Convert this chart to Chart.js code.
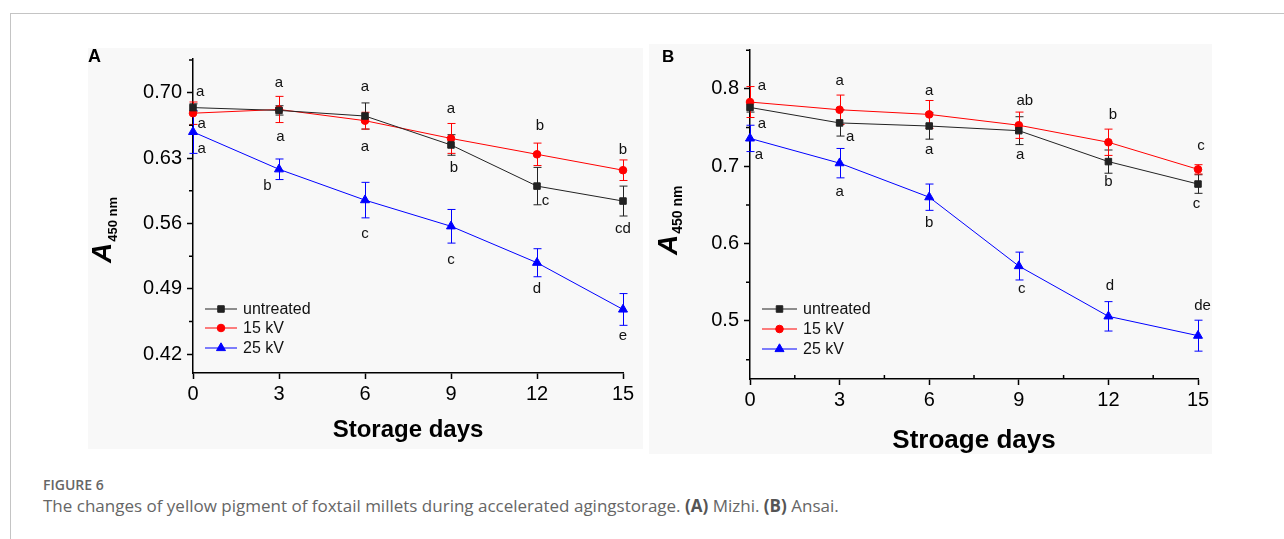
<!DOCTYPE html>
<html>
<head>
<meta charset="utf-8">
<script src="https://cdn.jsdelivr.net/npm/chart.js@4.4.1/dist/chart.umd.min.js"></script>
<style>
  html, body { margin: 0; padding: 0; background: #fff; }
  body { width: 1284px; height: 539px; position: relative; overflow: hidden; }
  .card { position: absolute; left: 10px; top: 13px; right: -5px; bottom: -5px;
          border-top: 1px solid #c4c4c4; border-left: 1px solid #c4c4c4; }
  .panel { position: absolute; background: #f8f8f8; }
  #panelA { left: 88px; top: 48px; width: 555px; height: 401px; }
  #panelB { left: 649px; top: 44px; width: 563px; height: 410px; }
  .fig-no { position: absolute; left: 43px; top: 475px; font: 600 14px/20px "Open Sans", sans-serif; color: #666; }
  .fig-cap { position: absolute; left: 43px; top: 495px; font: 400 17px/22px "Open Sans", sans-serif; color: #666; white-space: nowrap; }
  .fig-cap b { color: #555; }
</style>
</head>
<body>
<div class="card"></div>
<div class="panel" id="panelA"><canvas id="chartA" width="555" height="401"></canvas></div>
<div class="panel" id="panelB"><canvas id="chartB" width="563" height="410"></canvas></div>
<div class="fig-no">FIGURE 6</div>
<div class="fig-cap">The changes of yellow pigment of foxtail millets during accelerated agingstorage. <b>(A)</b> Mizhi. <b>(B)</b> Ansai.</div>

<script>
// storage days (x axis)
const days = [0, 3, 6, 9, 12, 15];
const seriesNames = ['untreated', '15 kV', '25 kV'];

// panel A - Mizhi
const untreatedA = [0.684, 0.681, 0.675, 0.644, 0.600, 0.584];
const untreatedErrA = [0.004, 0.005, 0.014, 0.011, 0.020, 0.016];
const kv15A = [0.678, 0.682, 0.670, 0.651, 0.634, 0.617];
const kv15ErrA = [0.012, 0.014, 0.009, 0.016, 0.012, 0.011];
const kv25A = [0.658, 0.618, 0.585, 0.557, 0.518, 0.468];
const kv25ErrA = [0.023, 0.011, 0.019, 0.018, 0.015, 0.017];
const yTicksA = [0.42, 0.49, 0.56, 0.63, 0.70];
const yMinorA = [0.455, 0.525, 0.595, 0.665, 0.735];
const letterTextA = ['a', 'a', 'a',  'a', 'a', 'b',  'a', 'a', 'c',  'a', 'b', 'c',  'b', 'c', 'd',  'b', 'cd', 'e'];
const letterXA = [0.25, 0.3, 0.3,  3, 3.05, 2.6,  6, 6, 6,  9, 9.1, 9,  12.1, 12.3, 12,  15, 15, 15];
const letterYA = [0.701, 0.667, 0.640,  0.710, 0.6525, 0.600,  0.706, 0.6425, 0.549,
                  0.683, 0.619, 0.5215,  0.664, 0.584, 0.490,  0.639, 0.554, 0.440];

// panel B - Ansai
const untreatedB = [0.776, 0.756, 0.752, 0.746, 0.706, 0.677];
const untreatedErrB = [0.006, 0.017, 0.017, 0.018, 0.015, 0.012];
const kv15B = [0.783, 0.773, 0.767, 0.753, 0.731, 0.696];
const kv15ErrB = [0.020, 0.019, 0.018, 0.017, 0.017, 0.006];
const kv25B = [0.736, 0.704, 0.660, 0.571, 0.506, 0.481];
const kv25ErrB = [0.017, 0.019, 0.017, 0.018, 0.019, 0.020];
const yTicksB = [0.5, 0.6, 0.7, 0.8];
const yMinorB = [0.45, 0.55, 0.65, 0.75, 0.85];
const xMinorB = [1.5, 4.5, 7.5, 10.5, 13.5];
const letterTextB = ['a', 'a', 'a',  'a', 'a', 'a',  'a', 'a', 'b',  'ab', 'a', 'c',  'b', 'b', 'd',  'c', 'c', 'de'];
const letterXB = [0.4, 0.4, 0.3,  3, 3.35, 3,  6, 6, 6,  9.2, 9.05, 9.1,  12.15, 12, 12.05,  15.1, 14.95, 15.15];
const letterYB = [0.804, 0.755, 0.715,  0.811, 0.738, 0.667,  0.797, 0.721, 0.627,
                  0.785, 0.715, 0.541,  0.767, 0.680, 0.545,  0.726, 0.652, 0.519];

const FONT = '"Liberation Sans", Arial, sans-serif';
const colors = ['#222222', '#ff0000', '#0000ff'];
const styles = ['rect', 'circle', 'triangle'];
const radii = [4.6, 3.8, 5.2];

function makeDatasets(values, errors) {
  return values.map((vals, k) => ({
    label: seriesNames[k],
    data: days.map((d, i) => ({ x: d, y: vals[i] })),
    errors: errors[k],
    borderColor: colors[k],
    backgroundColor: colors[k],
    borderWidth: 1,
    pointStyle: styles[k],
    pointRadius: radii[k],
    pointBorderWidth: 1,
    pointBackgroundColor: colors[k],
    pointBorderColor: colors[k],
    clip: false,
    tension: 0
  }));
}

// everything Chart.js has no option for: error bars, letters, minor ticks, legend, titles
function makeExtras(cfg) {
  return {
    id: 'extras',
    beforeDatasetsDraw(chart) {
      const { ctx, scales: { x, y } } = chart;
      chart.data.datasets.forEach(ds => {
        ctx.save();
        ctx.strokeStyle = ds.borderColor;
        ctx.lineWidth = 1;
        ds.data.forEach((pt, i) => {
          const e = ds.errors[i];
          const px = Math.round(x.getPixelForValue(pt.x)) + 0.5;
          const top = y.getPixelForValue(pt.y + e);
          const bot = y.getPixelForValue(pt.y - e);
          ctx.beginPath();
          ctx.moveTo(px, top); ctx.lineTo(px, bot);
          ctx.moveTo(px - 4, top); ctx.lineTo(px + 4, top);
          ctx.moveTo(px - 4, bot); ctx.lineTo(px + 4, bot);
          ctx.stroke();
        });
        ctx.restore();
      });
    },
    afterDraw(chart) {
      const { ctx, chartArea: area, scales: { x, y } } = chart;
      ctx.save();
      // minor ticks
      ctx.strokeStyle = '#000';
      ctx.lineWidth = 1.5;
      ctx.beginPath();
      cfg.yMinor.forEach(v => {
        const py = y.getPixelForValue(v);
        ctx.moveTo(area.left - 4, py); ctx.lineTo(area.left, py);
      });
      (cfg.xMinor || []).forEach(v => {
        const px = x.getPixelForValue(v);
        ctx.moveTo(px, area.bottom); ctx.lineTo(px, area.bottom - 4);
      });
      ctx.stroke();

      // significance letters
      ctx.fillStyle = '#111';
      ctx.font = '15px ' + FONT;
      ctx.textAlign = 'center';
      ctx.textBaseline = 'middle';
      cfg.letterText.forEach((t, i) => {
        ctx.fillText(t, x.getPixelForValue(cfg.letterX[i]), y.getPixelForValue(cfg.letterY[i]));
      });

      // legend
      const lg = cfg.legend;
      ctx.font = '16px ' + FONT;
      ctx.textAlign = 'left';
      chart.data.datasets.forEach((ds, k) => {
        const ry = lg.rows[k];
        ctx.strokeStyle = ds.borderColor;
        ctx.fillStyle = ds.borderColor;
        ctx.lineWidth = 1;
        ctx.beginPath();
        ctx.moveTo(lg.x0, ry); ctx.lineTo(lg.x1, ry);
        ctx.stroke();
        Chart.helpers.drawPoint(ctx, { pointStyle: ds.pointStyle, radius: ds.pointRadius, borderWidth: 1, rotation: 0 },
          (lg.x0 + lg.x1) / 2, ry);
        ctx.fillStyle = '#111';
        ctx.fillText(ds.label, lg.tx, ry + 1);
      });

      // x axis title
      ctx.fillStyle = '#000';
      ctx.font = 'bold ' + cfg.xTitleSize + 'px ' + FONT;
      ctx.textAlign = 'center';
      ctx.textBaseline = 'alphabetic';
      ctx.fillText(cfg.xTitle, (area.left + area.right) / 2, cfg.xTitleY);

      // y axis title: A with subscript 450 nm
      ctx.save();
      ctx.translate(cfg.yTitleX, cfg.yTitleY);
      ctx.rotate(-Math.PI / 2);
      ctx.textAlign = 'left';
      ctx.font = 'italic bold 28px ' + FONT;
      ctx.fillText('A', 0, 0);
      const w = ctx.measureText('A').width;
      ctx.font = 'bold ' + cfg.subSize + 'px ' + FONT;
      ctx.fillText('450 nm', w + 1, cfg.subShift);
      ctx.restore();

      // panel letter
      ctx.font = 'bold ' + cfg.panelSize + 'px ' + FONT;
      ctx.textAlign = 'left';
      ctx.fillText(cfg.panel, cfg.panelX, cfg.panelY);
      ctx.restore();
    }
  };
}

function buildChart(id, datasets, sc, cfg) {
  const tickFont = { family: FONT, size: 20 };
  new Chart(document.getElementById(id), {
    type: 'line',
    data: { datasets },
    options: {
      responsive: false,
      animation: false,
      devicePixelRatio: 1,
      layout: { padding: { left: 0, right: sc.padRight, top: sc.padTop, bottom: 0 } },
      plugins: { legend: { display: false }, tooltip: { enabled: false } },
      scales: {
        x: {
          type: 'linear', min: 0, max: 15,
          afterBuildTicks: s => { s.ticks = days.map(v => ({ value: v })); },
          afterFit: s => { s.height = sc.xHeight; s.paddingLeft = 0; s.paddingRight = 0; },
          ticks: { font: tickFont, color: '#000', padding: 3, maxRotation: 0, autoSkip: false },
          grid: { drawOnChartArea: false, tickLength: 6, tickWidth: 1.5, tickColor: '#000' },
          border: { display: true, color: '#000', width: 1.5 }
        },
        y: {
          type: 'linear', min: sc.yMin, max: sc.yMax,
          afterBuildTicks: s => { s.ticks = sc.yTicks.map(v => ({ value: v })); },
          afterFit: s => { s.width = sc.yWidth; s.paddingTop = 0; s.paddingBottom = 0; },
          ticks: { font: tickFont, color: '#000', padding: 5, callback: v => v.toFixed(sc.digits) },
          grid: { drawOnChartArea: false, tickLength: 6, tickWidth: 1.5, tickColor: '#000' },
          border: { display: true, color: '#000', width: 1.5 }
        }
      }
    },
    plugins: [makeExtras(cfg)]
  });
}

buildChart('chartA',
  makeDatasets([untreatedA, kv15A, kv25A], [untreatedErrA, kv15ErrA, kv25ErrA]),
  { yMin: 0.40, yMax: 0.736, yTicks: yTicksA, digits: 2, yWidth: 105, xHeight: 76, padTop: 11, padRight: 20 },
  { yMinor: yMinorA, letterText: letterTextA, letterX: letterXA, letterY: letterYA,
    legend: { x0: 117, x1: 149, tx: 155, rows: [261, 280, 300] },
    xTitle: 'Storage days', xTitleSize: 24, xTitleY: 389,
    yTitleX: 23, yTitleY: 215, subSize: 13, subShift: 6,
    panel: 'A', panelSize: 18, panelX: 0, panelY: 14 });

buildChart('chartB',
  makeDatasets([untreatedB, kv15B, kv25B], [untreatedErrB, kv15ErrB, kv25ErrB]),
  { yMin: 0.425, yMax: 0.85, yTicks: yTicksB, digits: 1, yWidth: 101, xHeight: 75, padTop: 6, padRight: 14 },
  { yMinor: yMinorB, xMinor: xMinorB, letterText: letterTextB, letterX: letterXB, letterY: letterYB,
    legend: { x0: 113, x1: 148, tx: 154, rows: [265, 285, 305] },
    xTitle: 'Stroage days', xTitleSize: 26, xTitleY: 404,
    yTitleX: 28, yTitleY: 211, subSize: 14, subShift: 5,
    panel: 'B', panelSize: 17, panelX: 13, panelY: 18 });
</script>
</body>
</html>
